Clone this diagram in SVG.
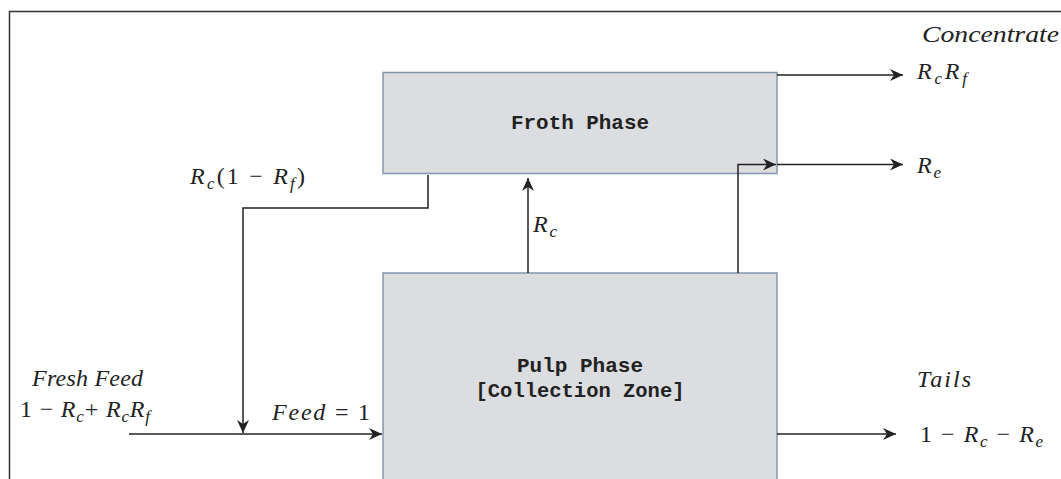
<svg xmlns="http://www.w3.org/2000/svg" width="1061" height="479" viewBox="0 0 1061 479">
<style>
.box{fill:#dcdde0;stroke:#8496ad;stroke-width:1.5}
.ln{fill:none;stroke:#222;stroke-width:1.5}
.mono{font-family:"Liberation Mono","Courier New",monospace;font-weight:bold;font-size:21px;fill:#222;text-anchor:middle}
.it{font-family:"Liberation Serif","Times New Roman",serif;font-style:italic;font-size:24px;fill:#222}
.rm{font-family:"Liberation Serif","Times New Roman",serif;font-style:normal;font-size:24px;fill:#222}
.sub{font-size:17px}
</style>
<defs>
<marker id="ah" viewBox="0 0 13 12" refX="13" refY="6" markerWidth="13" markerHeight="12" markerUnits="userSpaceOnUse" orient="auto">
<path d="M0,0 L13,6 L0,12 L4,6 z" fill="#222"/>
</marker>
</defs>
<rect width="1061" height="479" fill="#fff"/>
<path d="M9.5,479 V11.5 H1061" fill="none" stroke="#333" stroke-width="1.5"/>
<g id="froth">
<rect class="box" x="383" y="72.5" width="394" height="101"/>
<text class="mono" x="580" y="129" textLength="138" lengthAdjust="spacingAndGlyphs">Froth Phase</text>
</g>
<g id="pulp">
<rect class="box" x="383" y="273" width="394" height="220"/>
<text class="mono" x="580" y="372" textLength="126" lengthAdjust="spacingAndGlyphs">Pulp Phase</text>
<text class="mono" x="580" y="397" textLength="209" lengthAdjust="spacingAndGlyphs">[Collection Zone]</text>
</g>
<g id="connectors">
<path class="ln" d="M428,175 V208 H243 V433" marker-end="url(#ah)"/>
<path class="ln" d="M129,434 H382" marker-end="url(#ah)"/>
<path class="ln" d="M528,273 V178" marker-end="url(#ah)"/>
<path class="ln" d="M738,273 V164.5 H776" marker-end="url(#ah)"/>
<path class="ln" d="M777,164.5 H903" marker-end="url(#ah)"/>
<path class="ln" d="M777,75 H903" marker-end="url(#ah)"/>
<path class="ln" d="M777,434 H896" marker-end="url(#ah)"/>
</g>
<g id="labels">
<text class="it" x="922" y="42" textLength="137" lengthAdjust="spacingAndGlyphs">Concentrate</text>
<text class="it" x="917" y="79" textLength="50">R<tspan class="sub" dy="5">c</tspan><tspan dy="-5">R</tspan><tspan class="sub" dy="5">f</tspan></text>
<text class="it" x="917" y="173" textLength="24">R<tspan class="sub" dy="5">e</tspan></text>
<text class="it" x="190" y="184" textLength="115">R<tspan class="sub" dy="5">c</tspan><tspan class="rm" dy="-5">(1 − </tspan>R<tspan class="sub" dy="5">f</tspan><tspan class="rm" dy="-5">)</tspan></text>
<text class="it" x="533" y="232" textLength="24">R<tspan class="sub" dy="5">c</tspan></text>
<text class="it" x="32" y="386" textLength="111">Fresh Feed</text>
<text class="rm" x="20" y="417" textLength="130">1 − <tspan class="it">R</tspan><tspan class="it sub" dy="5">c</tspan><tspan dy="-5">+ </tspan><tspan class="it">R</tspan><tspan class="it sub" dy="5">c</tspan><tspan class="it" dy="-5">R</tspan><tspan class="it sub" dy="5">f</tspan></text>
<text class="it" x="272" y="420" textLength="98">Feed <tspan class="rm">= 1</tspan></text>
<text class="it" x="917" y="387" textLength="54">Tails</text>
<text class="rm" x="920" y="442" textLength="123">1 − <tspan class="it">R</tspan><tspan class="it sub" dy="5">c</tspan><tspan dy="-5"> − </tspan><tspan class="it">R</tspan><tspan class="it sub" dy="5">e</tspan></text>
</g>
</svg>
